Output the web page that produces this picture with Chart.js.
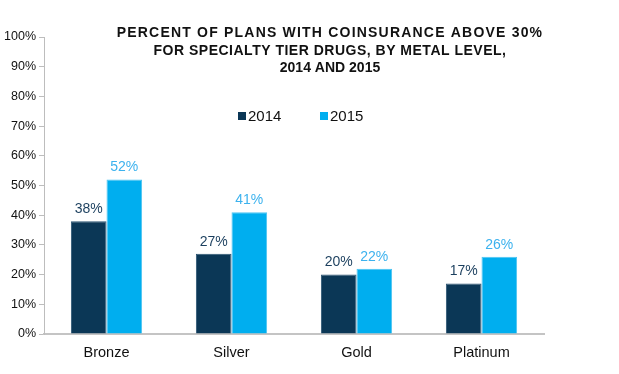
<!DOCTYPE html>
<html>
<head>
<meta charset="utf-8">
<script src="https://cdn.jsdelivr.net/npm/chart.js@4"></script>
<style>
  html, body { margin: 0; padding: 0; background: #fff; }
  #wrap { width: 619px; height: 374px; position: relative; }
</style>
</head>
<body>
<div id="wrap"><canvas id="chart"></canvas></div>
<script>
// --- Chart data ---
const categories = ["Bronze", "Silver", "Gold", "Platinum"];
const values2014 = [38, 27, 20, 17];
const values2015 = [52, 41, 22, 26];
const seriesNames = ["2014", "2015"];
const titleLines = [
  "PERCENT OF PLANS WITH COINSURANCE ABOVE 30%",
  "FOR SPECIALTY TIER DRUGS, BY METAL LEVEL,",
  "2014 AND 2015",
];

const FONT = "Arial, 'Liberation Sans', sans-serif";
const barColors = ["#0B3756", "#00AEEF"];
const labelColors = ["#1B3F5E", "#3CB2EE"];

// draws the title and legend on top of the plot, and the value labels
const overlayPlugin = {
  id: "overlay",
  afterDatasetsDraw(chart) {
    const ctx = chart.ctx;
    ctx.save();

    // value labels above each bar
    ctx.font = "14px " + FONT;
    ctx.textAlign = "center";
    ctx.textBaseline = "bottom";
    chart.data.datasets.forEach((ds, i) => {
      const meta = chart.getDatasetMeta(i);
      meta.data.forEach((bar, j) => {
        ctx.fillStyle = labelColors[i];
        ctx.fillText(ds.data[j] + "%", bar.x, bar.y - 5);
      });
    });

    // title
    ctx.fillStyle = "#111";
    ctx.font = "bold 14px " + FONT;
    ctx.textBaseline = "middle";
    const spacing = ["1.2px", "0.5px", "0px"];
    const ys = [33, 51, 68];
    titleLines.forEach((line, k) => {
      ctx.letterSpacing = spacing[k];
      ctx.fillText(line, 330, ys[k]);
    });
    ctx.letterSpacing = "0px";

    // legend
    ctx.font = "15px " + FONT;
    ctx.textAlign = "left";
    const lx = [238, 320];
    chart.data.datasets.forEach((ds, i) => {
      ctx.fillStyle = barColors[i];
      ctx.fillRect(lx[i], 112, 8, 8);
      ctx.fillStyle = "#111";
      ctx.fillText(ds.label, lx[i] + 10, 117);
    });
    ctx.restore();
  },
};

new Chart(document.getElementById("chart"), {
  type: "bar",
  data: {
    labels: categories,
    datasets: [
      {
        label: seriesNames[0],
        data: values2014,
        backgroundColor: barColors[0],
        borderColor: "#2C5573",
        borderWidth: 1,
        categoryPercentage: 0.57,
        barPercentage: 1,
      },
      {
        label: seriesNames[1],
        data: values2015,
        backgroundColor: barColors[1],
        borderColor: "#4CC4F2",
        borderWidth: 1,
        categoryPercentage: 0.57,
        barPercentage: 1,
      },
    ],
  },
  options: {
    responsive: true,
    maintainAspectRatio: false,
    animation: false,
    layout: { padding: { top: 37, right: 75, left: 0, bottom: 0 } },
    plugins: {
      legend: { display: false },
      title: { display: false },
      tooltip: { enabled: false },
    },
    scales: {
      x: {
        grid: { display: false, drawTicks: false },
        border: { color: "#C4C4C4", width: 2 },
        ticks: { color: "#111", font: { family: FONT, size: 14.5 }, padding: 10 },
        afterFit(scale) { scale.height = 40; },
      },
      y: {
        min: 0,
        max: 100,
        ticks: {
          stepSize: 10,
          color: "#111",
          font: { family: FONT, size: 12.5 },
          padding: 3,
          callback: (v) => v + "%",
        },
        grid: { drawOnChartArea: false, tickLength: 5, color: "#BDBDBD" },
        border: { color: "#BDBDBD", width: 1 },
        afterFit(scale) { scale.width = 44; },
      },
    },
  },
  plugins: [overlayPlugin],
});
</script>
</body>
</html>
